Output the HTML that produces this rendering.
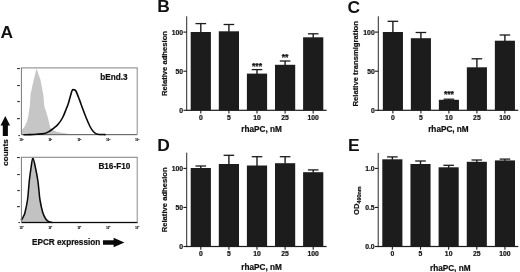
<!DOCTYPE html>
<html><head><meta charset="utf-8"><title>Figure</title>
<style>
html,body{margin:0;padding:0;background:#fff;}
body{width:520px;height:272px;overflow:hidden;}
svg{display:block;}
text{font-family:"Liberation Sans",sans-serif;font-weight:bold;fill:#111;}
.pl{font-size:17.4px;}
.t8{font-size:8.2px;stroke:#111;stroke-width:0.22px;}
.t7{font-size:6.8px;stroke:#111;stroke-width:0.2px;}
.ty{font-size:7.65px;stroke:#111;stroke-width:0.2px;}
.st{font-size:8.6px;stroke:#111;stroke-width:0.25px;}
.tiny{font-size:2.6px;fill:#111;stroke:#111;stroke-width:0.12px;}
</style></head><body>
<svg width="520" height="272" viewBox="0 0 520 272">
<rect width="520" height="272" fill="#fff"/>
<text class="pl" x="0.4" y="38.0">A</text>
<text class="pl" x="157.2" y="12.2">B</text>
<text class="pl" x="347.4" y="12.8">C</text>
<text class="pl" x="157.2" y="150.6">D</text>
<text class="pl" x="348" y="151.0">E</text>
<path d="M21.4,134.6 L21.4,130.6 L22.6,129 L24.4,127 L27,121.5 L28.3,116 L29.8,106 L30.6,94 L33.8,79.5 L36.5,68.4 L40.4,79.5 L43.2,94 L44.4,106.5 L46.5,113 L48.1,118.5 L49.3,123.5 L50.2,127.5 L52.8,130.2 L57.5,132 L64,133.3 L74,134.6 Z" fill="#c6c6c6"/>
<rect x="21.4" y="134.0" width="115.79999999999998" height="1.2" fill="#6e6e6e"/>
<path d="M24.00,134.75 C25.00,134.73 27.92,134.72 30.00,134.65 C32.08,134.58 34.10,134.49 36.50,134.30 C38.90,134.11 42.23,134.02 44.40,133.50 C46.57,132.98 47.98,132.05 49.50,131.20 C51.02,130.35 52.07,129.55 53.50,128.40 C54.93,127.25 56.57,126.12 58.10,124.30 C59.63,122.48 61.28,120.22 62.70,117.50 C64.12,114.78 65.72,110.15 66.60,108.00 C67.48,105.85 67.38,106.52 68.00,104.60 C68.62,102.68 69.58,98.92 70.30,96.50 C71.02,94.08 71.67,91.20 72.30,90.10 C72.93,89.00 73.50,89.75 74.10,89.90 C74.70,90.05 75.02,89.38 75.90,91.00 C76.78,92.62 78.28,96.68 79.40,99.60 C80.52,102.52 81.46,105.43 82.60,108.50 C83.74,111.57 85.02,115.00 86.25,118.00 C87.48,121.00 88.79,124.20 90.00,126.50 C91.21,128.80 92.25,130.52 93.50,131.80 C94.75,133.08 95.58,133.73 97.50,134.20 C99.42,134.67 103.75,134.53 105.00,134.60" fill="none" stroke="#0a0a0a" stroke-width="1.6" stroke-linejoin="round" stroke-linecap="round"/>
<rect x="20.9" y="67.35000000000001" width="116.79999999999998" height="1.1" fill="#8c8c8c"/>
<rect x="20.9" y="67.9" width="1" height="66.69999999999999" fill="#777"/>
<rect x="136.7" y="67.9" width="1" height="66.69999999999999" fill="#8c8c8c"/>
<text class="t8" x="100.3" y="79.6">bEnd.3</text>
<text class="tiny" x="19.5" y="140.6">10<tspan dy="-1.1" font-size="1.9">0</tspan></text>
<text class="tiny" x="48.4" y="140.6">10<tspan dy="-1.1" font-size="1.9">1</tspan></text>
<text class="tiny" x="77.4" y="140.6">10<tspan dy="-1.1" font-size="1.9">2</tspan></text>
<text class="tiny" x="106.3" y="140.6">10<tspan dy="-1.1" font-size="1.9">3</tspan></text>
<text class="tiny" x="135.3" y="140.6">10<tspan dy="-1.1" font-size="1.9">4</tspan></text>
<text class="tiny" style="font-size:2.3px;stroke-width:0.25px" text-anchor="end" x="19.7" y="68.8">80</text>
<text class="tiny" style="font-size:2.3px;stroke-width:0.25px" text-anchor="end" x="19.7" y="85.5">60</text>
<text class="tiny" style="font-size:2.3px;stroke-width:0.25px" text-anchor="end" x="19.7" y="102.2">40</text>
<text class="tiny" style="font-size:2.3px;stroke-width:0.25px" text-anchor="end" x="19.7" y="118.8">20</text>
<text class="tiny" style="font-size:2.3px;stroke-width:0.25px" text-anchor="end" x="19.7" y="135.5">0</text>
<path d="M21.4,222.5 L21.4,219.6 L21.9,219.4 L23.4,216.5 L25,212.5 L27.5,200 L28.5,190 L29.4,180 L31,168 L32.9,157.9 L35.5,168 L37.75,180 L38.9,190 L40,200 L42.75,212.5 L45.6,218.75 L48.75,221.7 L52,222.4 Z" fill="#c2c2c2"/>
<path d="M21.40,219.60 C21.48,219.57 21.57,219.92 21.90,219.40 C22.23,218.88 22.88,217.65 23.40,216.50 C23.92,215.35 24.32,215.25 25.00,212.50 C25.68,209.75 26.92,203.75 27.50,200.00 C28.08,196.25 28.18,193.33 28.50,190.00 C28.82,186.67 28.98,183.67 29.40,180.00 C29.82,176.33 30.42,171.68 31.00,168.00 C31.58,164.32 32.15,157.90 32.90,157.90 C33.65,157.90 34.69,164.32 35.50,168.00 C36.31,171.68 37.18,176.33 37.75,180.00 C38.32,183.67 38.52,186.67 38.90,190.00 C39.27,193.33 39.36,196.25 40.00,200.00 C40.64,203.75 41.82,209.38 42.75,212.50 C43.68,215.62 44.60,217.22 45.60,218.75 C46.60,220.28 47.68,221.09 48.75,221.70 C49.82,222.31 51.46,222.28 52.00,222.40" fill="none" stroke="#0a0a0a" stroke-width="1.55" stroke-linejoin="round" stroke-linecap="round"/>
<rect x="21.4" y="221.85" width="116.29999999999998" height="1.3" fill="#0a0a0a"/>
<rect x="20.9" y="156.75" width="116.79999999999998" height="1.1" fill="#8c8c8c"/>
<rect x="20.9" y="157.3" width="1" height="65.19999999999999" fill="#777"/>
<rect x="136.7" y="157.3" width="1" height="65.19999999999999" fill="#8c8c8c"/>
<text class="t8" x="98.4" y="168.6">B16-F10</text>
<text class="tiny" x="19.5" y="228.5">10<tspan dy="-1.1" font-size="1.9">0</tspan></text>
<text class="tiny" x="48.4" y="228.5">10<tspan dy="-1.1" font-size="1.9">1</tspan></text>
<text class="tiny" x="77.4" y="228.5">10<tspan dy="-1.1" font-size="1.9">2</tspan></text>
<text class="tiny" x="106.3" y="228.5">10<tspan dy="-1.1" font-size="1.9">3</tspan></text>
<text class="tiny" x="135.3" y="228.5">10<tspan dy="-1.1" font-size="1.9">4</tspan></text>
<text class="tiny" style="font-size:2.3px;stroke-width:0.25px" text-anchor="end" x="19.7" y="158.2">80</text>
<text class="tiny" style="font-size:2.3px;stroke-width:0.25px" text-anchor="end" x="19.7" y="174.5">60</text>
<text class="tiny" style="font-size:2.3px;stroke-width:0.25px" text-anchor="end" x="19.7" y="190.8">40</text>
<text class="tiny" style="font-size:2.3px;stroke-width:0.25px" text-anchor="end" x="19.7" y="207.1">20</text>
<text class="tiny" style="font-size:2.3px;stroke-width:0.25px" text-anchor="end" x="19.7" y="223.4">0</text>
<text class="t8" style="font-size:8.05px" transform="translate(8.25,165.7) rotate(-90)">counts</text>
<polygon points="2.8,136 2.8,125.5 0.5,125.5 5.3,115.9 10.1,125.5 7.9,125.5 7.9,136" fill="#0a0a0a"/>
<text class="t8" x="32" y="245">EPCR expression</text>
<polygon points="103,240.3 113.6,240.3 113.6,237.8 124.4,242.55 113.6,247.3 113.6,244.8 103,244.8" fill="#0a0a0a"/>
<g>
<rect x="190.70" y="32.00" width="20.2" height="78.30" fill="#1c1c1c"/>
<rect x="200.10" y="23.60" width="1.4" height="8.90" fill="#1c1c1c"/>
<rect x="195.50" y="22.95" width="10.6" height="1.3" fill="#1c1c1c"/>
<rect x="218.80" y="31.30" width="20.2" height="79.00" fill="#1c1c1c"/>
<rect x="228.20" y="24.50" width="1.4" height="7.30" fill="#1c1c1c"/>
<rect x="223.60" y="23.85" width="10.6" height="1.3" fill="#1c1c1c"/>
<rect x="246.90" y="73.60" width="20.2" height="36.70" fill="#1c1c1c"/>
<rect x="256.30" y="69.60" width="1.4" height="4.50" fill="#1c1c1c"/>
<rect x="251.70" y="68.95" width="10.6" height="1.3" fill="#1c1c1c"/>
<rect x="275.00" y="64.80" width="20.2" height="45.50" fill="#1c1c1c"/>
<rect x="284.40" y="61.00" width="1.4" height="4.30" fill="#1c1c1c"/>
<rect x="279.80" y="60.35" width="10.6" height="1.3" fill="#1c1c1c"/>
<rect x="303.10" y="37.30" width="20.2" height="73.00" fill="#1c1c1c"/>
<rect x="312.50" y="33.80" width="1.4" height="4.00" fill="#1c1c1c"/>
<rect x="307.90" y="33.15" width="10.6" height="1.3" fill="#1c1c1c"/>
<rect x="186.20" y="16.30" width="1.0" height="94.60" fill="#2a2a2a"/>
<rect x="186.10" y="109.70" width="140.50" height="1.2" fill="#1c1c1c"/>
<rect x="183.40" y="31.55" width="3.3" height="1.1" fill="#1c1c1c"/>
<text class="t7" text-anchor="end" x="183.10" y="34.60">100</text>
<rect x="183.40" y="70.65" width="3.3" height="1.1" fill="#1c1c1c"/>
<text class="t7" text-anchor="end" x="183.10" y="73.70">50</text>
<rect x="183.40" y="109.75" width="3.3" height="1.1" fill="#1c1c1c"/>
<text class="t7" text-anchor="end" x="183.10" y="112.80">0</text>
<rect x="200.25" y="110.30" width="1.1" height="3.2" fill="#1c1c1c"/>
<text class="t7" text-anchor="middle" x="200.80" y="119.70">0</text>
<rect x="228.35" y="110.30" width="1.1" height="3.2" fill="#1c1c1c"/>
<text class="t7" text-anchor="middle" x="228.90" y="119.70">5</text>
<rect x="256.45" y="110.30" width="1.1" height="3.2" fill="#1c1c1c"/>
<text class="t7" text-anchor="middle" x="257.00" y="119.70">10</text>
<rect x="284.55" y="110.30" width="1.1" height="3.2" fill="#1c1c1c"/>
<text class="t7" text-anchor="middle" x="285.10" y="119.70">25</text>
<rect x="312.65" y="110.30" width="1.1" height="3.2" fill="#1c1c1c"/>
<text class="t7" text-anchor="middle" x="313.20" y="119.70">100</text>
<text class="t8" x="241.3" y="131.80">rhaPC, nM</text>
<text class="ty" text-anchor="middle" transform="translate(166.9,63.5) rotate(-90)">Relative adhesion</text>
<text class="st" text-anchor="middle" x="257.00" y="69.2">***</text>
<text class="st" text-anchor="middle" x="285.10" y="60.4">**</text>
</g>
<g>
<rect x="382.85" y="32.00" width="20.1" height="78.30" fill="#1c1c1c"/>
<rect x="392.20" y="21.30" width="1.4" height="11.20" fill="#1c1c1c"/>
<rect x="387.60" y="20.65" width="10.6" height="1.3" fill="#1c1c1c"/>
<rect x="410.85" y="38.20" width="20.1" height="72.10" fill="#1c1c1c"/>
<rect x="420.20" y="32.50" width="1.4" height="6.20" fill="#1c1c1c"/>
<rect x="415.60" y="31.85" width="10.6" height="1.3" fill="#1c1c1c"/>
<rect x="438.85" y="99.80" width="20.1" height="10.50" fill="#1c1c1c"/>
<rect x="448.20" y="99.20" width="1.4" height="1.10" fill="#1c1c1c"/>
<rect x="443.60" y="98.55" width="10.6" height="1.3" fill="#1c1c1c"/>
<rect x="466.85" y="67.30" width="20.1" height="43.00" fill="#1c1c1c"/>
<rect x="476.20" y="58.80" width="1.4" height="9.00" fill="#1c1c1c"/>
<rect x="471.60" y="58.15" width="10.6" height="1.3" fill="#1c1c1c"/>
<rect x="494.85" y="40.70" width="20.1" height="69.60" fill="#1c1c1c"/>
<rect x="504.20" y="35.00" width="1.4" height="6.20" fill="#1c1c1c"/>
<rect x="499.60" y="34.35" width="10.6" height="1.3" fill="#1c1c1c"/>
<rect x="377.80" y="16.30" width="1.0" height="94.60" fill="#2a2a2a"/>
<rect x="377.70" y="109.70" width="140.55" height="1.2" fill="#1c1c1c"/>
<rect x="375.00" y="31.55" width="3.3" height="1.1" fill="#1c1c1c"/>
<text class="t7" text-anchor="end" x="374.70" y="34.60">100</text>
<rect x="375.00" y="70.65" width="3.3" height="1.1" fill="#1c1c1c"/>
<text class="t7" text-anchor="end" x="374.70" y="73.70">50</text>
<rect x="375.00" y="109.75" width="3.3" height="1.1" fill="#1c1c1c"/>
<text class="t7" text-anchor="end" x="374.70" y="112.80">0</text>
<rect x="392.35" y="110.30" width="1.1" height="3.2" fill="#1c1c1c"/>
<text class="t7" text-anchor="middle" x="392.90" y="119.70">0</text>
<rect x="420.35" y="110.30" width="1.1" height="3.2" fill="#1c1c1c"/>
<text class="t7" text-anchor="middle" x="420.90" y="119.70">5</text>
<rect x="448.35" y="110.30" width="1.1" height="3.2" fill="#1c1c1c"/>
<text class="t7" text-anchor="middle" x="448.90" y="119.70">10</text>
<rect x="476.35" y="110.30" width="1.1" height="3.2" fill="#1c1c1c"/>
<text class="t7" text-anchor="middle" x="476.90" y="119.70">25</text>
<rect x="504.35" y="110.30" width="1.1" height="3.2" fill="#1c1c1c"/>
<text class="t7" text-anchor="middle" x="504.90" y="119.70">100</text>
<text class="t8" x="428.2" y="131.80">rhaPC, nM</text>
<text class="ty" style="font-size:7.7px" text-anchor="middle" transform="translate(358.4,63.8) rotate(-90)">Relative transmigration</text>
<text class="st" text-anchor="middle" x="448.90" y="97.0">***</text>
</g>
<g>
<rect x="190.70" y="168.00" width="20.2" height="78.50" fill="#1c1c1c"/>
<rect x="200.10" y="166.00" width="1.4" height="2.50" fill="#1c1c1c"/>
<rect x="195.50" y="165.35" width="10.6" height="1.3" fill="#1c1c1c"/>
<rect x="218.80" y="164.00" width="20.2" height="82.50" fill="#1c1c1c"/>
<rect x="228.20" y="155.30" width="1.4" height="9.20" fill="#1c1c1c"/>
<rect x="223.60" y="154.65" width="10.6" height="1.3" fill="#1c1c1c"/>
<rect x="246.90" y="165.50" width="20.2" height="81.00" fill="#1c1c1c"/>
<rect x="256.30" y="156.70" width="1.4" height="9.30" fill="#1c1c1c"/>
<rect x="251.70" y="156.05" width="10.6" height="1.3" fill="#1c1c1c"/>
<rect x="275.00" y="163.20" width="20.2" height="83.30" fill="#1c1c1c"/>
<rect x="284.40" y="156.70" width="1.4" height="7.00" fill="#1c1c1c"/>
<rect x="279.80" y="156.05" width="10.6" height="1.3" fill="#1c1c1c"/>
<rect x="303.10" y="172.20" width="20.2" height="74.30" fill="#1c1c1c"/>
<rect x="312.50" y="169.90" width="1.4" height="2.80" fill="#1c1c1c"/>
<rect x="307.90" y="169.25" width="10.6" height="1.3" fill="#1c1c1c"/>
<rect x="186.20" y="152.70" width="1.0" height="94.40" fill="#2a2a2a"/>
<rect x="186.10" y="245.90" width="140.50" height="1.2" fill="#1c1c1c"/>
<rect x="183.40" y="167.85" width="3.3" height="1.1" fill="#1c1c1c"/>
<text class="t7" text-anchor="end" x="183.10" y="170.90">100</text>
<rect x="183.40" y="206.90" width="3.3" height="1.1" fill="#1c1c1c"/>
<text class="t7" text-anchor="end" x="183.10" y="209.95">50</text>
<rect x="183.40" y="245.95" width="3.3" height="1.1" fill="#1c1c1c"/>
<text class="t7" text-anchor="end" x="183.10" y="249.00">0</text>
<rect x="200.25" y="246.50" width="1.1" height="3.2" fill="#1c1c1c"/>
<text class="t7" text-anchor="middle" x="200.80" y="255.90">0</text>
<rect x="228.35" y="246.50" width="1.1" height="3.2" fill="#1c1c1c"/>
<text class="t7" text-anchor="middle" x="228.90" y="255.90">5</text>
<rect x="256.45" y="246.50" width="1.1" height="3.2" fill="#1c1c1c"/>
<text class="t7" text-anchor="middle" x="257.00" y="255.90">10</text>
<rect x="284.55" y="246.50" width="1.1" height="3.2" fill="#1c1c1c"/>
<text class="t7" text-anchor="middle" x="285.10" y="255.90">25</text>
<rect x="312.65" y="246.50" width="1.1" height="3.2" fill="#1c1c1c"/>
<text class="t7" text-anchor="middle" x="313.20" y="255.90">100</text>
<text class="t8" x="241.3" y="269.50">rhaPC, nM</text>
<text class="ty" text-anchor="middle" transform="translate(166.9,199.8) rotate(-90)">Relative adhesion</text>
</g>
<g>
<rect x="382.30" y="159.30" width="20.1" height="87.20" fill="#1c1c1c"/>
<rect x="391.65" y="156.90" width="1.4" height="2.90" fill="#1c1c1c"/>
<rect x="387.05" y="156.25" width="10.6" height="1.3" fill="#1c1c1c"/>
<rect x="410.45" y="164.00" width="20.1" height="82.50" fill="#1c1c1c"/>
<rect x="419.80" y="161.00" width="1.4" height="3.50" fill="#1c1c1c"/>
<rect x="415.20" y="160.35" width="10.6" height="1.3" fill="#1c1c1c"/>
<rect x="438.60" y="167.30" width="20.1" height="79.20" fill="#1c1c1c"/>
<rect x="447.95" y="165.30" width="1.4" height="2.50" fill="#1c1c1c"/>
<rect x="443.35" y="164.65" width="10.6" height="1.3" fill="#1c1c1c"/>
<rect x="466.75" y="161.80" width="20.1" height="84.70" fill="#1c1c1c"/>
<rect x="476.10" y="160.00" width="1.4" height="2.30" fill="#1c1c1c"/>
<rect x="471.50" y="159.35" width="10.6" height="1.3" fill="#1c1c1c"/>
<rect x="494.90" y="160.40" width="20.1" height="86.10" fill="#1c1c1c"/>
<rect x="504.25" y="159.10" width="1.4" height="1.80" fill="#1c1c1c"/>
<rect x="499.65" y="158.45" width="10.6" height="1.3" fill="#1c1c1c"/>
<rect x="377.70" y="152.90" width="1.0" height="94.20" fill="#2a2a2a"/>
<rect x="377.60" y="245.90" width="140.70" height="1.2" fill="#1c1c1c"/>
<rect x="374.90" y="167.85" width="3.3" height="1.1" fill="#1c1c1c"/>
<text class="t7" text-anchor="end" x="374.60" y="170.90">1.0</text>
<rect x="374.90" y="206.90" width="3.3" height="1.1" fill="#1c1c1c"/>
<text class="t7" text-anchor="end" x="374.60" y="209.95">0.5</text>
<rect x="374.90" y="245.95" width="3.3" height="1.1" fill="#1c1c1c"/>
<text class="t7" text-anchor="end" x="374.60" y="249.00">0.0</text>
<rect x="391.80" y="246.50" width="1.1" height="3.2" fill="#1c1c1c"/>
<text class="t7" text-anchor="middle" x="392.35" y="255.90">0</text>
<rect x="419.95" y="246.50" width="1.1" height="3.2" fill="#1c1c1c"/>
<text class="t7" text-anchor="middle" x="420.50" y="255.90">5</text>
<rect x="448.10" y="246.50" width="1.1" height="3.2" fill="#1c1c1c"/>
<text class="t7" text-anchor="middle" x="448.65" y="255.90">10</text>
<rect x="476.25" y="246.50" width="1.1" height="3.2" fill="#1c1c1c"/>
<text class="t7" text-anchor="middle" x="476.80" y="255.90">25</text>
<rect x="504.40" y="246.50" width="1.1" height="3.2" fill="#1c1c1c"/>
<text class="t7" text-anchor="middle" x="504.95" y="255.90">100</text>
<text class="t8" x="430" y="270.50">rhaPC, nM</text>
<text class="ty" transform="translate(358.7,214.9) rotate(-90)">OD<tspan font-size="5.4" dy="1.9">490nm</tspan></text>
</g>
</svg>
</body></html>
